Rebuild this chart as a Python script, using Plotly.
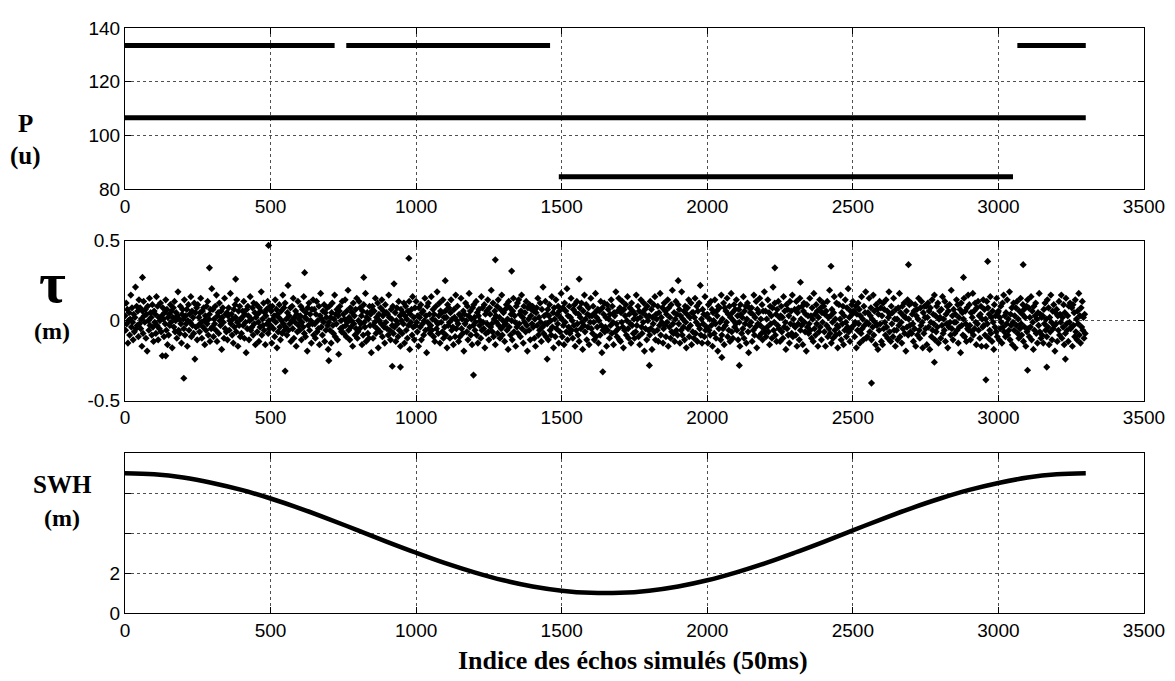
import plotly.graph_objects as go

# ---------------- data ----------------
x_ticks = [0, 500, 1000, 1500, 2000, 2500, 3000, 3500]

# P (u): constant levels held over index ranges
p_level = [133.5, 133.5, 133.5, 106.5, 84.5]
p_start = [0, 760, 3065, 0, 1490]
p_end = [720, 1460, 3300, 3300, 3050]

# tau (cm), one value every tau_step echoes, read from the cloud
tau_step = 2
tau_cm = [
3,-6,11,-2,7,-14,0,5,-9,1,16,-4,8,-1,-12,4,-7,2,21,-5,9,-3,6,-10,13,
-2,8,-5,1,-16,6,-8,12,3,-1,7,-11,4,-19,9,0,-6,14,-3,5,2,-9,10,-4,-13,
6,-1,4,-8,15,-3,9,-12,2,-5,0,11,-7,3,-22,8,1,-10,5,-2,13,-6,7,-15,2,
-9,4,-3,10,-1,6,-17,2,8,-4,12,-7,0,5,-11,3,18,-6,1,-8,9,-2,-14,4,7,
1,-5,13,-9,3,-2,7,-16,0,10,-6,4,-1,15,-10,6,-3,2,-8,11,-24,5,-4,8,-12,
10,-3,2,-7,5,14,-1,-11,6,-4,8,0,-15,3,-6,9,-2,12,-9,1,4,-13,7,-5,20,
-4,7,-10,1,-2,9,-6,16,-13,3,5,-8,11,0,-3,6,-18,2,8,-1,-11,14,-5,4,-7,
5,-12,3,8,-6,0,17,-2,4,-9,1,-14,7,-4,10,2,-7,13,-1,-16,6,-3,9,-10,1,
-8,2,6,-3,12,-11,4,-1,-20,7,-5,9,3,-12,0,15,-6,1,-4,8,-9,11,-2,5,-15,
2,10,-7,4,-1,-13,8,-4,6,18,-9,1,-3,11,-6,5,-15,3,7,-2,12,-8,0,-5,9,
-3,6,-14,9,1,-5,3,-10,13,-1,7,-17,4,-7,2,10,-4,-12,6,0,-8,16,-2,8,-6,
11,-4,1,-9,5,22,-6,3,-2,8,-13,0,9,-5,14,-11,2,-1,6,-16,4,-7,12,-3,1,
-6,3,9,-12,-1,7,-4,15,-8,2,-10,5,1,-19,8,-3,11,-6,4,0,-14,7,-2,13,-9,
7,-2,-11,4,12,-7,0,-5,9,-15,3,17,-4,1,-9,6,-1,10,-13,5,-6,2,8,-3,-18,
-1,9,-6,2,-14,5,11,-3,-8,1,16,-10,4,-2,7,-12,3,-21,6,9,-5,0,-7,12,-4,
4,-8,1,13,-3,-10,6,-1,19,-6,2,-12,8,-4,0,5,-16,11,-2,3,-9,7,-5,14,-11,
-7,0,12,-5,8,-2,3,-15,6,-9,10,-1,-4,17,-13,2,5,-8,1,-11,9,-3,4,-20,6,
9,-11,-3,6,-1,14,-8,2,-5,11,-17,4,0,-7,8,-2,13,-10,3,6,-4,-14,10,-1,5,
-5,4,-9,16,2,-6,-12,7,1,-3,9,-8,23,-4,5,-13,0,8,-2,-10,12,-6,3,-16,7,
0,-8,5,-2,11,-14,3,9,-6,1,-11,6,-3,12,-18,4,-1,7,-9,15,-4,2,-12,8,-3,
12,-1,-7,3,-16,8,2,-4,10,-12,5,-2,6,-9,0,14,-6,3,-20,9,-1,11,-5,4,-8,
-3,15,-6,1,7,-10,4,-13,0,9,-5,18,-2,-8,3,11,-14,6,-1,5,-7,13,-11,2,-4,
6,-9,2,-17,10,-3,8,-1,-11,5,13,-6,1,-4,-15,7,2,-10,16,-5,0,9,-2,-13,4,
-10,3,14,-5,1,-8,6,-19,4,-2,11,0,-7,9,-12,3,17,-4,6,-9,1,-15,8,-3,10,
2,-6,-1,12,-9,5,-14,3,7,-3,0,-11,15,-6,8,-1,-5,10,-17,4,-8,6,-2,13,-7,
-12,8,4,-4,19,-2,-7,11,-10,1,6,-15,3,-1,9,-8,13,-3,2,-11,7,-5,16,-9,0,
5,-3,-13,7,-2,10,-6,1,-18,12,-4,8,-9,4,0,-12,6,14,-7,3,-1,-16,9,-4,11,
-8,13,-2,4,-10,6,16,-5,2,-14,9,-1,5,-7,12,-3,-19,8,1,-6,10,-12,3,7,-2,
9,-4,6,-11,1,-16,5,8,-3,14,-9,2,-6,11,-1,-13,7,-4,21,-8,3,-2,12,-10,4,
-2,7,-12,3,10,-6,0,-9,15,-4,5,-17,8,1,-10,13,-5,4,-2,9,-14,6,-7,2,17,
1,-10,8,-3,-15,11,-1,6,-7,20,-12,3,-4,9,-8,2,14,-6,0,-11,7,-3,10,-16,5,
-6,12,-2,-9,4,-13,8,2,-5,11,-1,-18,6,-3,16,-7,1,10,-12,4,-4,8,-15,3,-1,
14,-5,3,-8,9,-1,-12,5,17,-10,2,-4,7,-14,0,6,-9,12,-3,-20,8,-6,4,11,-7,
-4,2,-16,10,-6,7,1,-11,4,-3,13,-8,9,-1,-15,5,3,-7,18,-2,-10,6,-5,14,-12,
8,-13,5,-1,12,-4,-17,7,-6,3,10,-9,0,15,-5,-11,4,8,-2,-14,11,-3,6,-8,1,
-11,4,-7,16,-3,1,9,-10,6,-15,2,13,-4,-8,5,-1,11,-19,7,-5,3,-12,9,0,-6,
3,-9,12,-5,7,-18,2,-2,10,-7,15,-12,4,1,-6,9,-13,5,-3,17,-9,2,-1,8,-14,
-5,11,-3,6,-10,4,-1,13,-16,8,-4,2,-11,10,-7,19,-2,-8,5,-13,1,12,-6,4,-9,
10,-2,7,-14,3,-6,18,-9,1,-4,6,-12,9,-1,-17,4,8,-5,13,-10,2,-3,11,-15,5,
-7,5,-11,2,14,-8,-1,9,-13,6,-3,11,-5,22,-9,1,-14,7,-2,4,-10,15,-6,3,-4,
4,-14,10,-6,1,-9,12,-3,7,-16,5,0,-8,13,-2,-11,6,3,-19,9,-5,8,-1,-12,16,
-9,1,-5,11,-15,8,-3,6,-1,14,-10,4,-6,9,-13,2,17,-7,5,-11,0,10,-4,7,-2,
13,-6,3,-12,7,-1,-16,10,4,-8,2,-5,15,-11,6,-2,9,-14,1,11,-7,-20,8,-3,5,
-1,8,-13,4,-6,16,-9,2,-4,12,-17,7,-2,5,-10,14,-3,1,-8,10,-12,6,-5,18,-7,
6,-10,1,-4,13,-7,5,-15,9,-2,3,-11,8,21,-6,-1,11,-9,4,-13,7,-3,12,-5,2,
-13,3,9,-7,2,-11,15,-4,6,-1,-18,10,-5,7,-9,3,-14,12,-2,6,-8,16,-10,1,-3,
7,-4,-9,12,-16,5,-2,8,-12,14,-6,1,-3,9,-15,6,11,-1,-7,4,-19,10,-4,3,-8,
-2,14,-6,3,-11,8,1,-13,17,-5,4,-9,10,-2,6,-16,2,-7,13,-4,8,-12,5,-1,11,
9,-7,4,-16,6,-3,12,-10,2,-5,19,-8,3,-14,7,-1,-11,5,15,-6,1,-9,11,-3,-17,
-4,10,-8,1,16,-12,5,-2,9,-15,3,-6,13,-1,-10,8,-4,20,-7,2,-13,6,-5,10,4,
12,-3,6,-10,-1,9,-17,4,-6,11,-2,7,-14,3,-8,15,-5,1,-12,9,-3,5,18,-11,-1,
-10,5,-2,14,-7,3,8,-12,1,-4,16,-9,6,-1,-15,10,-3,7,-18,4,-6,12,-2,8,-13,
3,-15,11,-5,7,-1,-9,13,-4,6,-11,2,18,-7,4,-13,9,-2,5,-10,14,-6,1,-16,7,
-6,1,-12,8,-3,17,-10,5,-1,-14,9,-5,3,11,-8,2,-19,6,-4,13,-9,1,10,-3,-7,
11,-8,4,-2,-13,6,-5,10,-16,3,7,-9,1,14,-6,-11,8,-3,12,-1,-17,5,-8,9,2,
-5,9,-15,2,11,-4,6,-18,8,-1,-10,13,-6,4,-2,16,-12,3,-7,9,-4,11,-14,1,6,
2,-11,7,-3,15,-8,1,-6,12,-13,4,-2,9,-17,6,-4,10,-1,-9,19,-5,3,-12,7,-1,
-8,4,-1,13,-6,10,-14,2,-4,7,-20,11,-3,5,-9,1,14,-10,6,-2,-13,8,-5,16,-6,
10,-3,-12,5,-7,2,17,-9,6,-5,11,-1,-15,8,-2,12,-6,3,-11,4,9,-16,1,-4,13,
-3,7,-9,1,-16,12,-2,8,-11,4,-6,15,-8,2,-13,6,-1,-18,10,-4,3,-7,14,-10,5,
6,-12,2,-5,9,-1,-14,11,-4,16,-7,3,-10,5,-2,13,-9,1,-6,18,-12,4,-3,8,-15,
-1,11,-6,3,-17,8,-3,12,-8,1,-11,6,-5,14,-2,-9,4,10,-13,7,-4,2,-16,9,-7,
13,-5,8,-10,2,-4,15,-12,6,-1,-18,9,-6,3,11,-8,1,-14,5,-3,17,-7,4,-11,2,
-9,3,-14,7,-2,11,-6,1,-10,13,-4,8,-15,2,-7,16,-1,-12,6,-5,10,-3,-19,5,-2,
7,-13,3,-6,12,-9,4,-1,16,-11,2,-4,10,-15,5,-8,14,-2,-6,3,-13,9,-1,11,-5,
-4,8,-16,10,-3,5,-10,13,-7,1,-12,6,-2,17,-9,3,-14,8,-4,12,-6,2,-11,4,-8,
]

# isolated tau points read individually (index, metres)
tau_out_x = [493, 975, 202, 550, 290, 617, 946, 918, 1197, 1272, 1641, 2232,
             1328, 1801, 2110, 2564, 2963, 2957, 2691, 3085, 2425, 3100, 3166,
             60, 140, 380, 700, 820, 1100, 1450, 1560, 1900, 2050, 2320, 2780, 2880, 3230]
tau_out_y = [0.47, 0.39, -0.36, -0.315, 0.33, 0.30, -0.29, -0.285, -0.34, 0.38, -0.32, 0.33,
             0.31, -0.28, -0.28, -0.39, 0.37, -0.37, 0.35, 0.35, 0.34, -0.31, -0.29,
             0.27, -0.22, 0.26, -0.25, 0.27, 0.25, -0.24, 0.26, 0.25, -0.23, 0.24, -0.26, 0.27, -0.24]

# SWH (m) read every 100 echoes
swh_x = [0, 100, 200, 300, 400, 500, 600, 700, 800, 900, 1000, 1100, 1200, 1300, 1400,
         1500, 1600, 1700, 1800, 1900, 2000, 2100, 2200, 2300, 2400, 2500, 2600, 2700,
         2800, 2900, 3000, 3100, 3200, 3300]
swh_y = [7.00, 6.95, 6.79, 6.52, 6.17, 5.74, 5.25, 4.71, 4.14, 3.57, 3.02, 2.50, 2.04,
         1.64, 1.33, 1.12, 1.01, 1.01, 1.12, 1.33, 1.64, 2.04, 2.50, 3.02, 3.57, 4.14,
         4.71, 5.25, 5.74, 6.17, 6.52, 6.79, 6.95, 7.00]

# ---------------- figure ----------------
fig = go.Figure()

for lv, s, e in zip(p_level, p_start, p_end):
    fig.add_trace(go.Scatter(x=[s, e], y=[lv, lv], mode="lines",
                             line=dict(color="black", width=5),
                             xaxis="x", yaxis="y", showlegend=False, hoverinfo="skip"))

tau_x = [i * tau_step for i in range(len(tau_cm))] + tau_out_x
tau_y = [v / 100 for v in tau_cm] + tau_out_y
fig.add_trace(go.Scatter(x=tau_x, y=tau_y, mode="markers",
                         marker=dict(symbol="diamond", size=5.5, color="black"),
                         xaxis="x2", yaxis="y2", showlegend=False))

fig.add_trace(go.Scatter(x=swh_x, y=swh_y, mode="lines", line_shape="spline",
                         line=dict(color="black", width=4.5),
                         xaxis="x3", yaxis="y3", showlegend=False))

tickfont = dict(family="Liberation Sans, Arial, sans-serif", size=19, color="black")
common = dict(showline=True, linecolor="black", linewidth=1, mirror="ticks",
              ticks="inside", ticklen=6, tickcolor="black", tickwidth=1,
              showgrid=True, gridcolor="rgb(80,80,80)", griddash="dot", gridwidth=1,
              zeroline=False, tickfont=tickfont)

d_top = [0.7249, 1.0]
d_mid = [0.363, 0.6365]
d_bot = [0.0, 0.2728]

xcommon = dict(range=[0, 3500], tickvals=x_ticks, **common)

# the page body adds an 8 px offset, so the figure is made 16 px smaller
fig.update_layout(
    width=1167, height=673,
    margin=dict(l=117, r=30, t=10, b=68),
    paper_bgcolor="white", plot_bgcolor="white",
    xaxis=dict(domain=[0, 1], anchor="y", **xcommon),
    yaxis=dict(domain=d_top, anchor="x", range=[80, 140], tickvals=[80, 100, 120, 140], **common),
    xaxis2=dict(domain=[0, 1], anchor="y2", **xcommon),
    yaxis2=dict(domain=d_mid, anchor="x2", range=[-0.5, 0.5], tickvals=[-0.5, 0, 0.5],
                ticktext=["-0.5", "0", "0.5"], **common),
    xaxis3=dict(domain=[0, 1], anchor="y3", **xcommon),
    yaxis3=dict(domain=d_bot, anchor="x3", range=[0, 8], tickvals=[0, 2, 4, 6, 8],
                ticktext=["0", "2", "", "", ""], **common),
)

serif = "Liberation Serif, Times New Roman, serif"
labels = [
    ("<b>P</b>", -0.098, 0.837, 25),
    ("<b>(u)</b>", -0.098, 0.7815, 25),
    ("<b>τ</b>", -0.0716, 0.5647, 58),
    ("<b>(m)</b>", -0.0716, 0.4824, 24),
    ("<b>SWH</b>", -0.0618, 0.2202, 25),
    ("<b>(m)</b>", -0.0618, 0.163, 24),
    ("<b>Indice des échos simulés (50ms)</b>", 0.499, -0.0807, 26),
]
for txt, ax, ay, sz in labels:
    fig.add_annotation(text=txt, x=ax, y=ay, xref="paper", yref="paper",
                       showarrow=False, xanchor="center", yanchor="middle",
                       font=dict(family=serif, size=sz, color="black"))

fig.write_html("out.html")
